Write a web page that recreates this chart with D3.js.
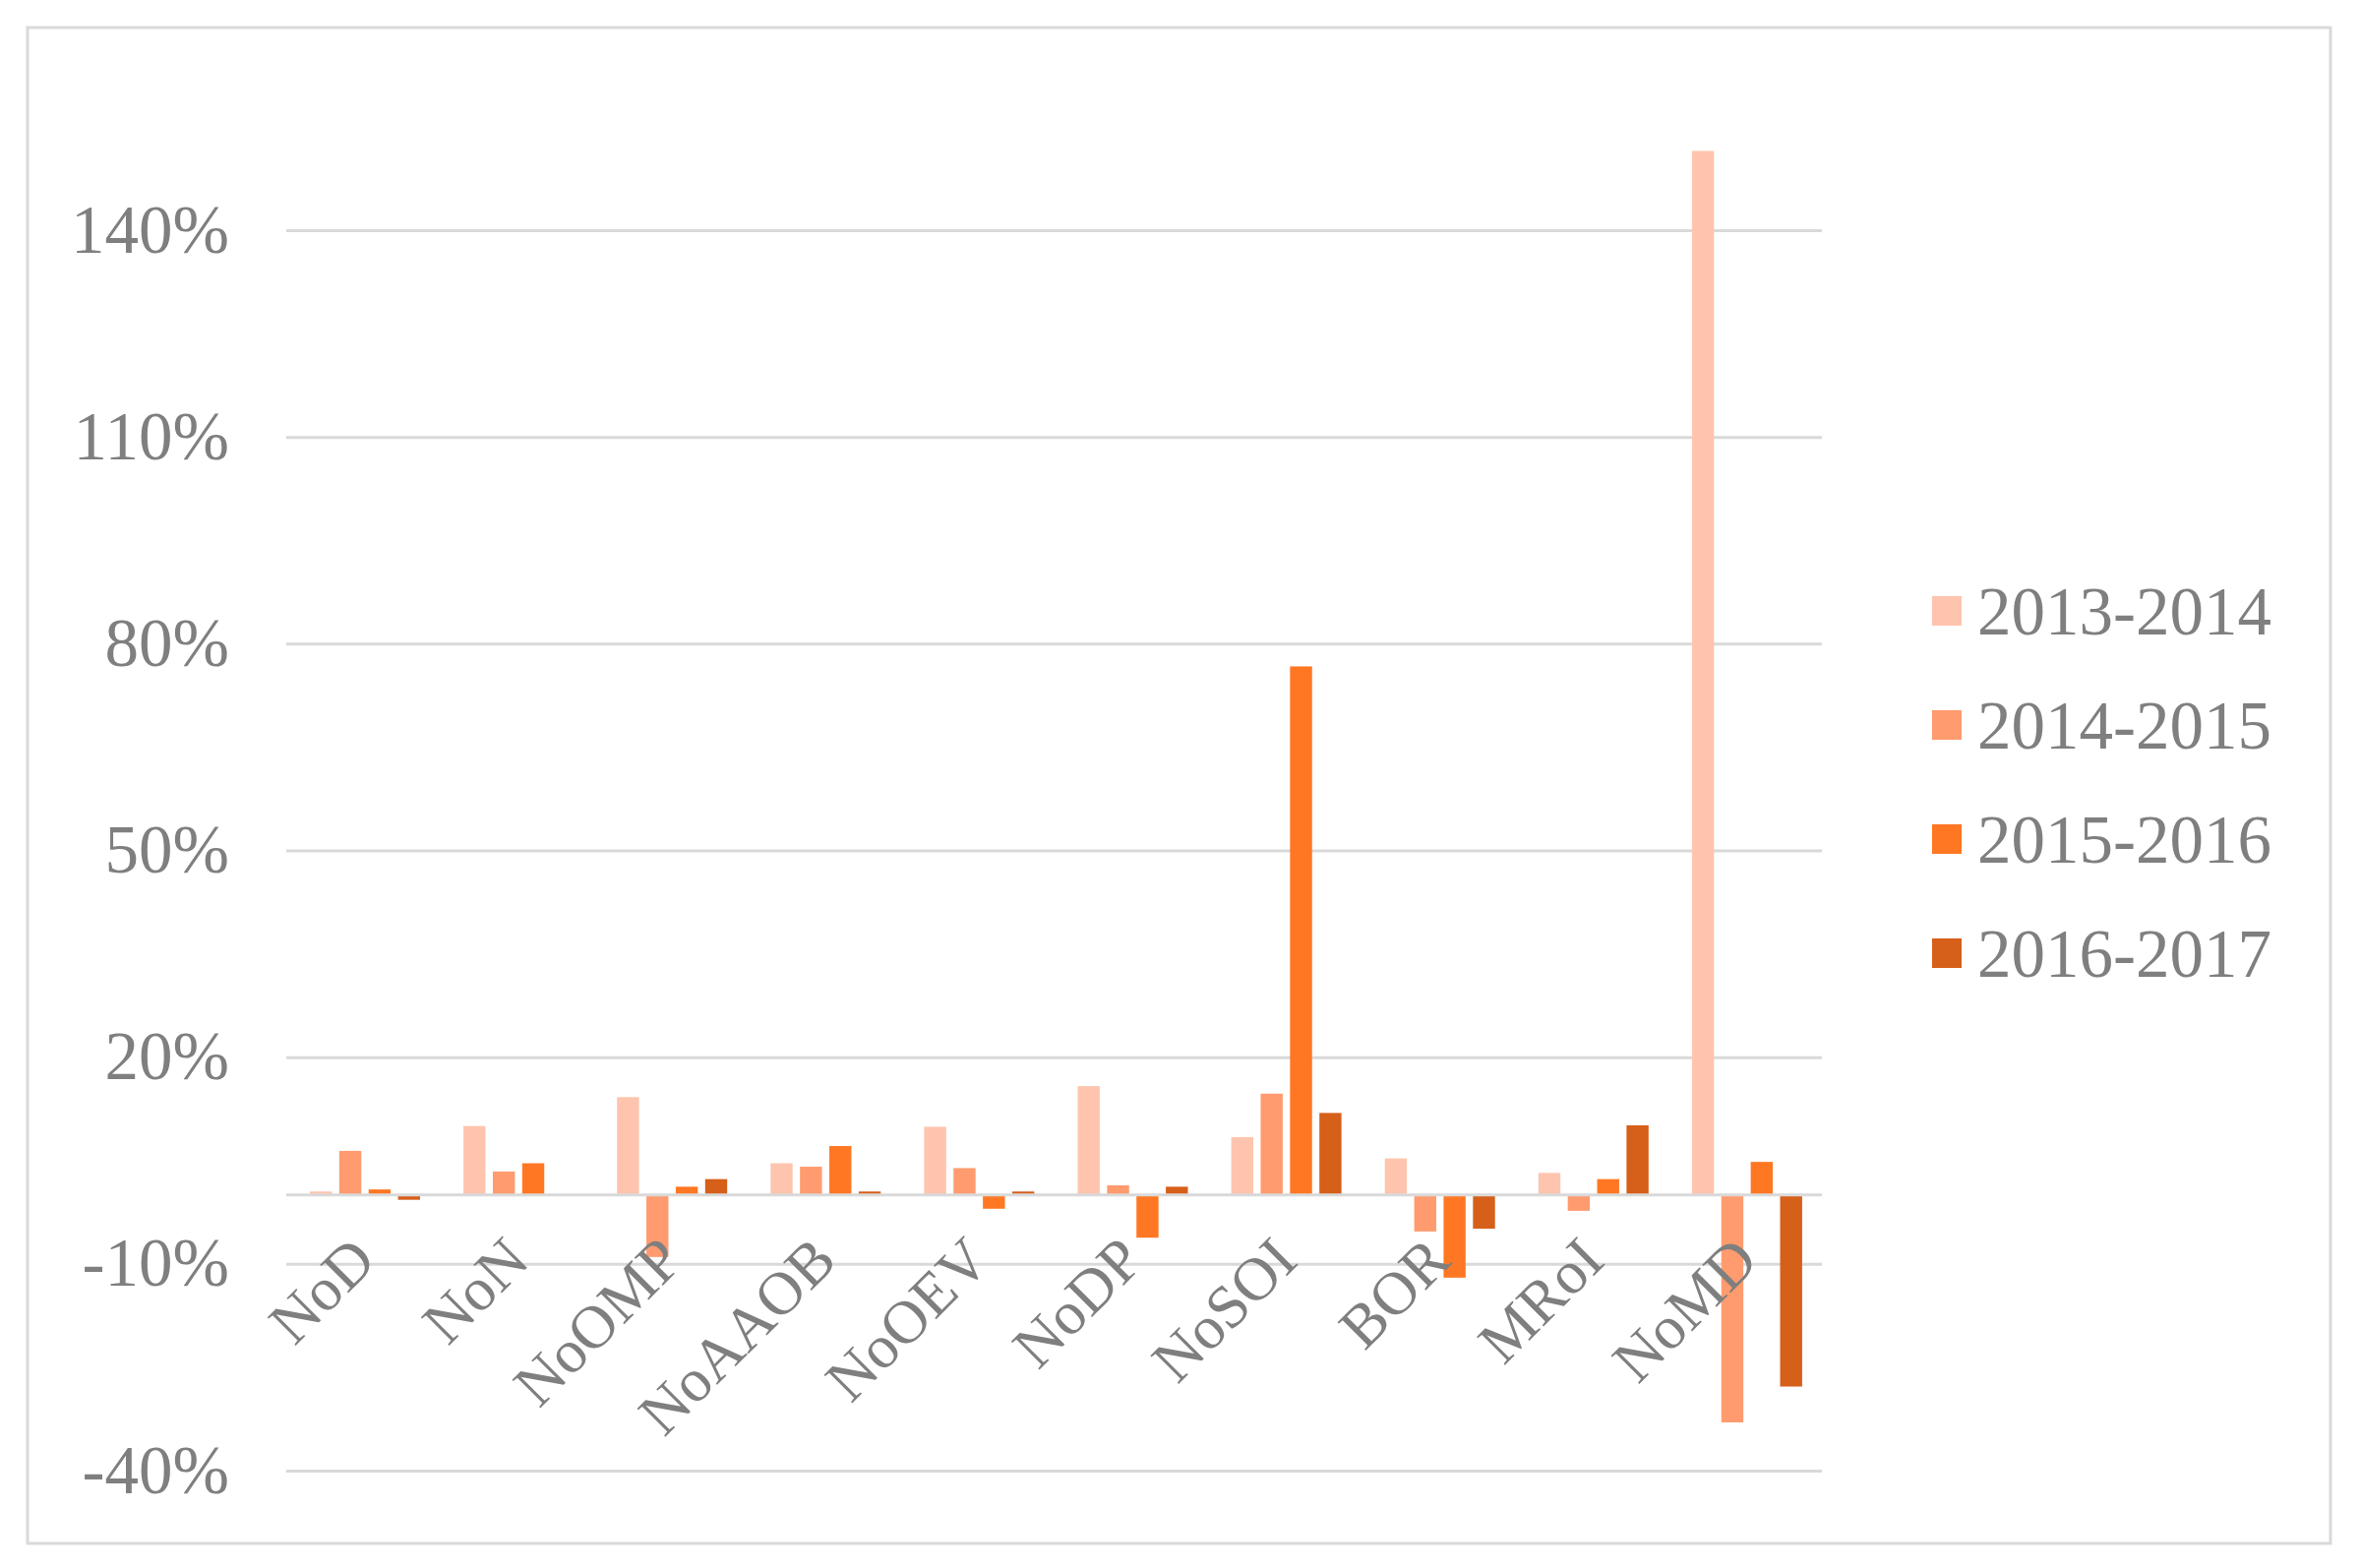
<!DOCTYPE html>
<html><head><meta charset="utf-8">
<script src="https://cdn.jsdelivr.net/npm/d3@7"></script>
<style>body{margin:0;background:#fff}</style></head>
<body><svg id="c" width="2400" height="1594"></svg>
<script>
const categories=["NoD","NoN","NoOMP","NoAAOB","NoOEV","NoDP","NoSOI","BOR","MRoI","NoMD"];
const seriesNames=["2013-2014","2014-2015","2015-2016","2016-2017"];
const s2013=[0.5,10,14.2,4.6,9.9,15.8,8.4,5.3,3.2,151.5];
const s2014=[6.4,3.4,-9,4.1,3.9,1.4,14.7,-5.3,-2.3,-33];
const s2015=[0.8,4.6,1.2,7.1,-2,-6.2,76.7,-12,2.3,4.8];
const s2016=[-0.7,0,2.3,0.5,0.5,1.2,11.9,-4.9,10.1,-27.8];
const tickValues=[-40,-10,20,50,80,110,140];
const colors=["#FFC4AE","#FF9B6E","#FF7722","#D65F1A"];
const series=[s2013,s2014,s2015,s2016];

const svg=d3.select("#c");
svg.append("rect").attr("x",28).attr("y",28).attr("width",2341).attr("height",1541)
  .attr("fill","#fff").attr("stroke","#d9d9d9").attr("stroke-width",3);
const L=291,R=1852;
const y=d3.scaleLinear().domain([-40,140]).range([1495,234]);
const x=d3.scaleBand().domain(categories).range([L,R]);
const inner=d3.scaleBand().domain(seriesNames).range([24,24+28*4]).paddingInner(0.25);
const font="Liberation Serif, Times New Roman, serif";
const txt="#7f7f7f";

const ax=d3.axisLeft(y).tickValues(tickValues).tickSize(-(R-L)).tickFormat(d=>d+"%");
const g=svg.append("g").attr("transform",`translate(${L},0)`).call(ax);
g.select(".domain").remove();
g.selectAll(".tick line").attr("stroke","#d9d9d9").attr("stroke-width",3);
g.selectAll(".tick text").attr("x",-58).attr("font-family",font).attr("font-size",69).attr("fill",txt);

series.forEach((s,i)=>{
  svg.append("g").selectAll("rect").data(s).join("rect")
    .attr("x",(d,j)=>x(categories[j])+inner(seriesNames[i]))
    .attr("width",inner.bandwidth())
    .attr("y",d=>y(Math.max(0,d)))
    .attr("height",d=>Math.abs(y(d)-y(0)))
    .attr("fill",colors[i]);
});
svg.append("line").attr("x1",L).attr("x2",R).attr("y1",y(0)).attr("y2",y(0))
  .attr("stroke","#d9d9d9").attr("stroke-width",3);

svg.append("g").selectAll("text").data(categories).join("text")
  .attr("transform",d=>`translate(${x(d)+x.bandwidth()/2},${y(0)+54}) rotate(-45)`)
  .attr("text-anchor","end").attr("dy","0.35em")
  .attr("font-family",font).attr("font-size",62).attr("fill",txt).text(d=>d);

const lg=svg.append("g").selectAll("g").data(seriesNames).join("g")
  .attr("transform",(d,i)=>`translate(1964,${606+i*116})`);
lg.append("rect").attr("width",30).attr("height",30).attr("fill",(d,i)=>colors[i]);
lg.append("text").attr("x",46).attr("y",15).attr("dy","0.35em")
  .attr("font-family",font).attr("font-size",69).attr("fill",txt).text(d=>d);
</script></body></html>
